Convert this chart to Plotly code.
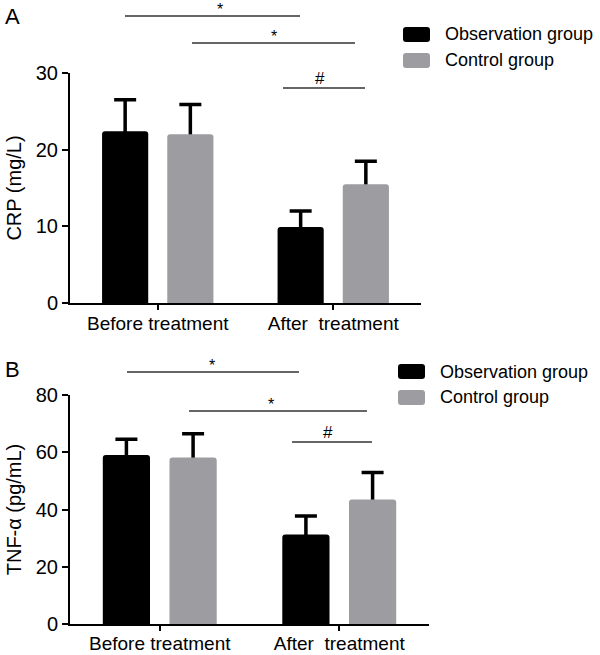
import plotly.graph_objects as go

W, H = 600, 655
FONT = "Liberation Sans, Arial, sans-serif"

categories = ["Before treatment", "After\u00a0\u00a0treatment"]
groups = ["Observation group", "Control group"]
colors = ["#000000", "#9d9da1"]

crp_obs = [22.4, 9.9]
crp_obs_sd = [4.1, 2.1]
crp_ctrl = [22.0, 15.5]
crp_ctrl_sd = [3.9, 3.0]

tnf_obs = [59.0, 31.3]
tnf_obs_sd = [5.5, 6.4]
tnf_ctrl = [58.2, 43.5]
tnf_ctrl_sd = [8.3, 9.4]

xpos = [0, 1]


def px(x):
    return x / W


def py(y):
    return 1 - y / H


fig = go.Figure()

panels = [
    ("x", "y", [crp_obs, crp_ctrl], [crp_obs_sd, crp_ctrl_sd]),
    ("x2", "y2", [tnf_obs, tnf_ctrl], [tnf_obs_sd, tnf_ctrl_sd]),
]
for xa, ya, vals, sds in panels:
    # error bars first (symmetric, lower half hidden behind the bars drawn afterwards)
    for k, (g, v, s) in enumerate(zip(groups, vals, sds)):
        fig.add_trace(go.Bar(
            x=xpos, y=v, name=g, xaxis=xa, yaxis=ya, offsetgroup=str(k),
            marker=dict(color="rgba(0,0,0,0)", line=dict(width=0)),
            error_y=dict(type="data", array=s, symmetric=True,
                         color="#000000", thickness=3.5, width=11),
            showlegend=False, hoverinfo="skip",
        ))
    for k, (g, c, v) in enumerate(zip(groups, colors, vals)):
        fig.add_trace(go.Bar(
            x=xpos, y=v, name=g, xaxis=xa, yaxis=ya, offsetgroup=str(k),
            marker=dict(color=c, line=dict(width=0), cornerradius=3),
            showlegend=False,
        ))

axis_common = dict(showline=True, linewidth=2, linecolor="#000000", ticks="outside",
                   tickwidth=2, tickcolor="#000000", showgrid=False, zeroline=False,
                   automargin=False)
xfont = dict(family=FONT, size=19, color="#000000")
yfont = dict(family=FONT, size=20, color="#000000")

fig.update_layout(
    template="none",
    width=W, height=H, margin=dict(l=0, r=0, t=0, b=0, autoexpand=False),
    paper_bgcolor="white", plot_bgcolor="white",
    barmode="group", bargap=0.257, bargroupgap=0.292,
    font=dict(family=FONT, color="#000000"),
    showlegend=False,
    xaxis=dict(domain=[px(70), px(421)], range=[-0.5, 1.5], tickvals=xpos, ticktext=categories,
               ticklen=5, ticklabelstandoff=-3, anchor="y", tickfont=xfont, **axis_common),
    yaxis=dict(domain=[py(303), py(73)], range=[0, 30], tickvals=[0, 10, 20, 30], ticklen=6,
               anchor="x", tickfont=yfont,
               title=dict(text="CRP (mg/L)", font=dict(family=FONT, size=20), standoff=9),
               **axis_common),
    xaxis2=dict(domain=[px(70), px(429)], range=[-0.5, 1.5], tickvals=xpos, ticktext=categories,
                ticklen=5, ticklabelstandoff=-4, anchor="y2", tickfont=xfont, **axis_common),
    yaxis2=dict(domain=[py(624), py(395)], range=[0, 80], tickvals=[0, 20, 40, 60, 80], ticklen=6,
                anchor="x2", tickfont=yfont,
                title=dict(text="TNF-α (pg/mL)", font=dict(family=FONT, size=20), standoff=9),
                **axis_common),
)

shapes = []
annots = []

# significance markers (pixel positions)
sig = [
    # x0, x1, y, label, label_x
    (125, 300, 16, "*", 220),
    (192, 355, 43, "*", 274),
    (283, 365, 88, "#", 320),
    (127, 299, 372, "*", 212),
    (189, 367, 411, "*", 271),
    (292, 372, 442, "#", 328),
]
for x0, x1, y, lab, lx in sig:
    shapes.append(dict(type="line", xref="paper", yref="paper", x0=px(x0), x1=px(x1),
                       y0=py(y), y1=py(y), line=dict(color="#333333", width=1.3)))
    yoff = 4 if lab == "*" else 2
    annots.append(dict(xref="paper", yref="paper", x=px(lx), y=py(y + yoff), text=lab,
                       showarrow=False, xanchor="center", yanchor="bottom",
                       font=dict(family=FONT, size=16 if lab == "*" else 17, color="#000000")))


def rounded_rect(x0, y0, x1, y1, r):
    X = lambda v: f"{px(v):.5f}"
    Y = lambda v: f"{py(v):.5f}"
    return (f"M{X(x0 + r)},{Y(y0)} L{X(x1 - r)},{Y(y0)} Q{X(x1)},{Y(y0)} {X(x1)},{Y(y0 + r)} "
            f"L{X(x1)},{Y(y1 - r)} Q{X(x1)},{Y(y1)} {X(x1 - r)},{Y(y1)} "
            f"L{X(x0 + r)},{Y(y1)} Q{X(x0)},{Y(y1)} {X(x0)},{Y(y1 - r)} "
            f"L{X(x0)},{Y(y0 + r)} Q{X(x0)},{Y(y0)} {X(x0 + r)},{Y(y0)} Z")


# legends
legends = [(403, 27, 443), (398, 364, 438)]
for lx, ly, tx in legends:
    for i, (g, c) in enumerate(zip(groups, colors)):
        y0 = ly + i * 26
        shapes.append(dict(type="path", xref="paper", yref="paper",
                           path=rounded_rect(lx, y0, lx + 27, y0 + 15, 3),
                           fillcolor=c, line=dict(width=0)))
        annots.append(dict(xref="paper", yref="paper", x=px(tx), y=py(y0 + 7.5), text=g,
                           showarrow=False, xanchor="left", yanchor="middle",
                           font=dict(family=FONT, size=18, color="#000000")))

# panel letters
annots.append(dict(xref="paper", yref="paper", x=px(3), y=py(2), text="A", showarrow=False,
                   xanchor="left", yanchor="top", font=dict(family=FONT, size=22, color="#000000")))
annots.append(dict(xref="paper", yref="paper", x=px(3), y=py(355), text="B", showarrow=False,
                   xanchor="left", yanchor="top", font=dict(family=FONT, size=22, color="#000000")))

fig.update_layout(shapes=shapes, annotations=annots)
fig.write_html("out.html", config={"displayModeBar": False},
               post_script="document.body.style.margin='0';document.body.style.overflow='hidden';")
